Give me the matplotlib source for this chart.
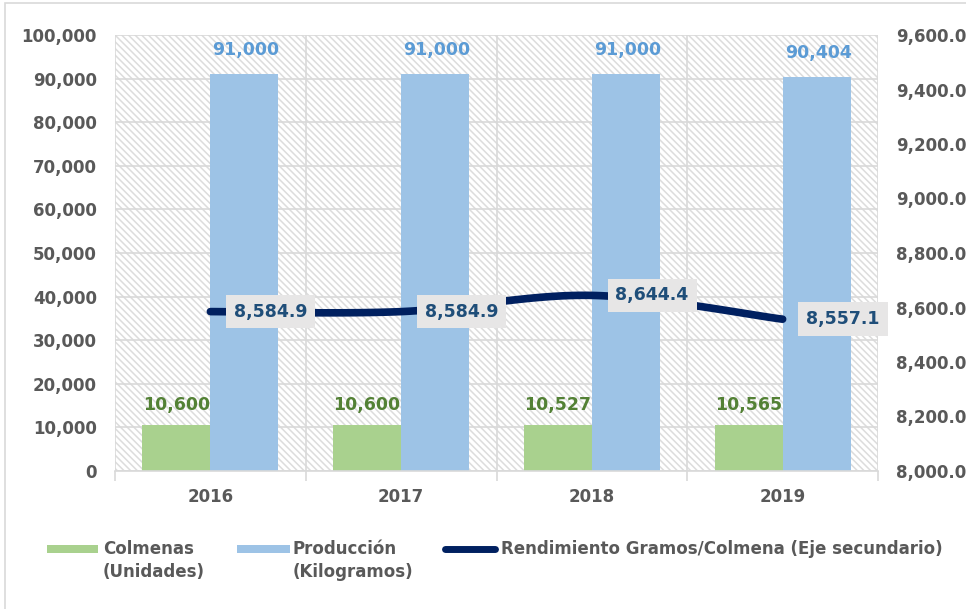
import numpy as np
import matplotlib
matplotlib.use("Agg")
import matplotlib.pyplot as plt
from matplotlib.patches import Rectangle
from matplotlib.lines import Line2D
from matplotlib.ticker import FuncFormatter

# data
years = ["2016", "2017", "2018", "2019"]
colmenas = [10600, 10600, 10527, 10565]
produccion = [91000, 91000, 91000, 90404]
rendimiento = [8584.9, 8584.9, 8644.4, 8557.1]

green = "#a9d18e"
blue = "#9dc3e6"
navy = "#002060"
grey_txt = "#595959"
grid_c = "#d9d9d9"

plt.rcParams["font.family"] = "DejaVu Sans"
plt.rcParams["font.weight"] = "bold"
plt.rcParams["hatch.linewidth"] = 1.1

fig = plt.figure(figsize=(9.66, 6.09), dpi=100)
ax = fig.add_axes([115 / 966, 1 - 471 / 609, (878 - 115) / 966, (471 - 35) / 609])

# hatched plot-area background
ax.add_patch(Rectangle((0, 0), 1, 1, transform=ax.transAxes, facecolor="white",
                       edgecolor="#dcdcdc", hatch="\\\\\\\\\\", linewidth=0, zorder=0))

x = np.arange(len(years))
w = 0.357
b1 = ax.bar(x - w / 2, colmenas, w, color=green, zorder=2)
b2 = ax.bar(x + w / 2, produccion, w, color=blue, zorder=2)

for xi, v in zip(x - w / 2, colmenas):
    ax.annotate(f"{v:,}", (xi, v), xytext=(0, 8), textcoords="offset points",
                ha="center", va="bottom", color="#538135", fontsize=12.5, fontweight="bold")
for xi, v in zip(x + w / 2, produccion):
    ax.annotate(f"{v:,}", (xi, v), xytext=(1, 11), textcoords="offset points",
                ha="center", va="bottom", color="#5b9bd5", fontsize=12.5, fontweight="bold")

ax.set_xlim(-0.5, len(years) - 0.5)
ax.set_ylim(0, 100000)
ax.set_yticks(np.arange(0, 100001, 10000))
ax.yaxis.set_major_formatter(FuncFormatter(lambda v, p: f"{v:,.0f}"))
ax.set_xticks(np.arange(-0.5, len(years), 1.0))
ax.set_xticklabels([])
ax.set_xticks(x, minor=True)
ax.set_xticklabels(years, minor=True)
ax.tick_params(axis="x", which="major", length=7, color=grid_c, width=1.2)
ax.tick_params(axis="x", which="minor", length=0, pad=12, labelsize=12, labelcolor=grey_txt)
ax.tick_params(axis="y", length=0, pad=13, labelsize=12, labelcolor=grey_txt)
ax.grid(True, which="major", color=grid_c, linewidth=1.2)
ax.set_axisbelow(True)
for s in ["top", "left", "right"]:
    ax.spines[s].set_visible(False)
ax.spines["bottom"].set_color(grid_c)
ax.spines["bottom"].set_linewidth(1.2)

# secondary axis with smoothed line (Excel-like bezier smoothing)
ax2 = ax.twinx()
ax2.set_ylim(8000, 9600)
ax2.set_yticks(np.arange(8000, 9601, 200))
ax2.yaxis.set_major_formatter(FuncFormatter(lambda v, p: f"{v:,.1f}"))
ax2.tick_params(axis="y", length=0, pad=13, labelsize=12, labelcolor=grey_txt)
for s in ax2.spines.values():
    s.set_visible(False)

px = x.astype(float)
py = np.array(rendimiento)
cx, cy = [], []
t = np.linspace(0, 1, 40)
n = len(px)
for i in range(n - 1):
    p0 = (px[max(i - 1, 0)], py[max(i - 1, 0)])
    p1 = (px[i], py[i])
    p2 = (px[i + 1], py[i + 1])
    p3 = (px[min(i + 2, n - 1)], py[min(i + 2, n - 1)])
    c1 = (p1[0] + (p2[0] - p0[0]) / 6, p1[1] + (p2[1] - p0[1]) / 6)
    c2 = (p2[0] - (p3[0] - p1[0]) / 6, p2[1] - (p3[1] - p1[1]) / 6)
    bx = (1 - t) ** 3 * p1[0] + 3 * (1 - t) ** 2 * t * c1[0] + 3 * (1 - t) * t ** 2 * c2[0] + t ** 3 * p2[0]
    by = (1 - t) ** 3 * p1[1] + 3 * (1 - t) ** 2 * t * c1[1] + 3 * (1 - t) * t ** 2 * c2[1] + t ** 3 * p2[1]
    cx.extend(bx)
    cy.extend(by)
ax2.plot(cx, cy, color=navy, linewidth=5.5, solid_capstyle="round", zorder=3)

for xi, v in zip(px, py):
    ax2.annotate(f"{v:,.1f}", (xi, v), xytext=(17, 0), textcoords="offset points",
                 ha="left", va="center", color="#1f4e79", fontsize=12.5, fontweight="bold",
                 bbox=dict(boxstyle="square,pad=0.45", facecolor="#e7e6e6", edgecolor="none"),
                 zorder=4)

# legend, laid out by hand so handles line up with the first text line
def fx(p):
    return p / 966


def fy(p):
    return 1 - p / 609


fig.add_artist(Rectangle((fx(47), fy(553)), fx(51), 8 / 609, facecolor=green, edgecolor="none"))
fig.add_artist(Rectangle((fx(237), fy(553)), fx(53), 8 / 609, facecolor=blue, edgecolor="none"))
fig.add_artist(Line2D([fx(445), fx(495)], [fy(549), fy(549)], color=navy, linewidth=5,
                      solid_capstyle="round"))
leg_items = [(103, ["Colmenas", "(Unidades)"]),
             (293, ["Producción", "(Kilogramos)"]),
             (501, ["Rendimiento Gramos/Colmena (Eje secundario)"])]
for lx, lines in leg_items:
    for k, s in enumerate(lines):
        fig.text(fx(lx), fy(549 + 23 * k), s, ha="left", va="center", fontsize=12,
                 fontweight="bold", color=grey_txt)

# chart border
fig.add_artist(Rectangle((5 / 966, -0.1), 1.2, (1 - 3 / 609) + 0.1, transform=fig.transFigure,
                         facecolor="none", edgecolor="#d9d9d9", linewidth=1.2))

fig.savefig("out.png", dpi=100)
